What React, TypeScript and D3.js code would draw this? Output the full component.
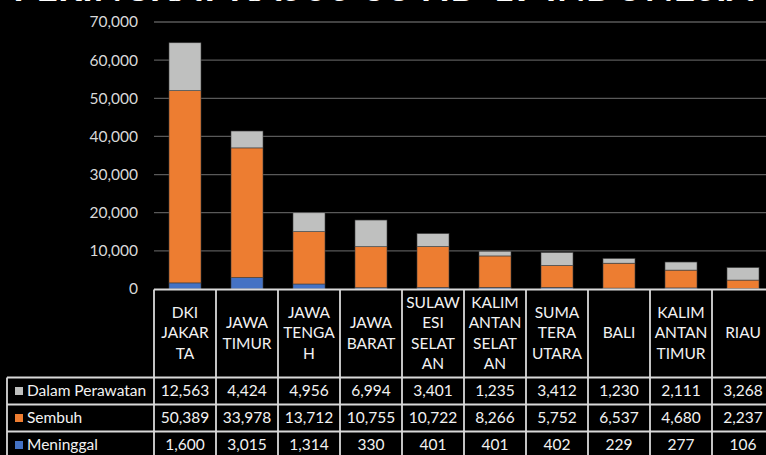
import React from "react";
import * as d3 from "d3";

const provinces = ["DKI JAKARTA", "JAWA TIMUR", "JAWA TENGAH", "JAWA BARAT", "SULAWESI SELATAN", "KALIMANTAN SELATAN", "SUMATERA UTARA", "BALI", "KALIMANTAN TIMUR", "RIAU"];
// wrapped header lines as they appear in the table
const headerLines = [
  ["DKI", "JAKAR", "TA"],
  ["JAWA", "TIMUR"],
  ["JAWA", "TENGA", "H"],
  ["JAWA", "BARAT"],
  ["SULAW", "ESI", "SELAT", "AN"],
  ["KALIM", "ANTAN", "SELAT", "AN"],
  ["SUMA", "TERA", "UTARA"],
  ["BALI"],
  ["KALIM", "ANTAN", "TIMUR"],
  ["RIAU"],
];
const meninggal = [1600, 3015, 1314, 330, 401, 401, 402, 229, 277, 106];
const sembuh = [50389, 33978, 13712, 10755, 10722, 8266, 5752, 6537, 4680, 2237];
const dalamPerawatan = [12563, 4424, 4956, 6994, 3401, 1235, 3412, 1230, 2111, 3268];
const seriesNames = ["Meninggal", "Sembuh", "Dalam Perawatan"];
const seriesColors = ["#4472c4", "#ed7d31", "#bfc0bf"];
const yTicks = [0, 10000, 20000, 30000, 40000, 50000, 60000, 70000];
const title = "PERINGKAT KASUS COVID-19 INDONESIA";

const W = 766;
const H = 455;
const font = "Lato, 'Open Sans', sans-serif";
const textColor = "#f2f2f2";
const lineColor = "#d9d9d9";

export default function App() {
  const colW = 62;
  const left = 154;
  const x = d3.scaleBand().domain(provinces).range([left, left + colW * provinces.length]).padding(0);
  const y = d3.scaleLinear().domain([0, 70000]).range([289, 22]);
  const barW = 32;

  const rows = provinces.map((p, i) => ({
    name: p,
    Meninggal: meninggal[i],
    Sembuh: sembuh[i],
    "Dalam Perawatan": dalamPerawatan[i],
  }));
  const stacked = d3.stack<any>().keys(seriesNames)(rows);

  const right = left + colW * provinces.length;
  const axisY = 289.5;
  const headerBottom = 377.5;
  const rowH = 27;
  const tableRows = [
    { name: "Dalam Perawatan", color: seriesColors[2], values: dalamPerawatan },
    { name: "Sembuh", color: seriesColors[1], values: sembuh },
    { name: "Meninggal", color: seriesColors[0], values: meninggal },
  ];
  const fmt = d3.format(",");
  const headerMid = 333;
  const lineH = 20.5;
  const fs = 15.5;

  return (
    <svg width={W} height={H} style={{ position: "fixed", top: 0, left: 0, display: "block" }} fontFamily={font}>
      <rect width={W} height={H} fill="#000" />

      {/* title, mostly cut off above the frame */}
      <text x={W / 2} y={1} textAnchor="middle" fill="#fff" fontSize={46} fontWeight="bold" textLength={740} lengthAdjust="spacingAndGlyphs">
        {title}
      </text>

      {/* gridlines + y labels */}
      {yTicks.map((t) => (
        <g key={t}>
          {t > 0 && <line x1={left} x2={right} y1={y(t)} y2={y(t)} stroke="#595959" strokeWidth={1.3} />}
          <text x={138} y={y(t)} dy="0.35em" textAnchor="end" fill="#d9d9d9" fontSize={fs}>
            {fmt(t)}
          </text>
        </g>
      ))}

      {/* stacked bars */}
      {stacked.map((s, si) => (
        <g key={s.key} fill={seriesColors[si]}>
          {s.map((d, i) => (
            <rect
              key={i}
              x={(x(provinces[i]) as number) + (colW - barW) / 2}
              y={y(d[1])}
              width={barW}
              height={y(d[0]) - y(d[1])}
              stroke="#404040"
              strokeWidth={0.6}
            />
          ))}
        </g>
      ))}

      {/* data table */}
      <g stroke={lineColor} strokeWidth={1.8}>
        <line x1={left} x2={right} y1={axisY} y2={axisY} />
        {d3.range(provinces.length + 1).map((i) => (
          <line key={i} x1={left + i * colW} x2={left + i * colW} y1={axisY} y2={H + 10} />
        ))}
        {d3.range(tableRows.length + 1).map((r) => (
          <line key={r} x1={7} x2={right} y1={headerBottom + r * rowH} y2={headerBottom + r * rowH} />
        ))}
        <line x1={7} x2={7} y1={headerBottom} y2={H + 10} />
      </g>

      {headerLines.map((lines, i) => (
        <text key={i} fill={textColor} fontSize={fs} textAnchor="middle">
          {lines.map((l, j) => (
            <tspan key={j} x={(x(provinces[i]) as number) + colW / 2} y={headerMid - ((lines.length - 1) * lineH) / 2 + j * lineH} dy="0.35em">
              {l}
            </tspan>
          ))}
        </text>
      ))}

      {tableRows.map((r, ri) => {
        const cy = headerBottom + ri * rowH + rowH / 2;
        return (
          <g key={r.name}>
            <rect x={15} y={cy - 4} width={8} height={8} fill={r.color} />
            <text x={27} y={cy} dy="0.35em" fill={textColor} fontSize={fs}>
              {r.name}
            </text>
            {r.values.map((v, i) => (
              <text key={i} x={(x(provinces[i]) as number) + colW / 2} y={cy} dy="0.35em" textAnchor="middle" fill={textColor} fontSize={fs}>
                {fmt(v)}
              </text>
            ))}
          </g>
        );
      })}
    </svg>
  );
}
